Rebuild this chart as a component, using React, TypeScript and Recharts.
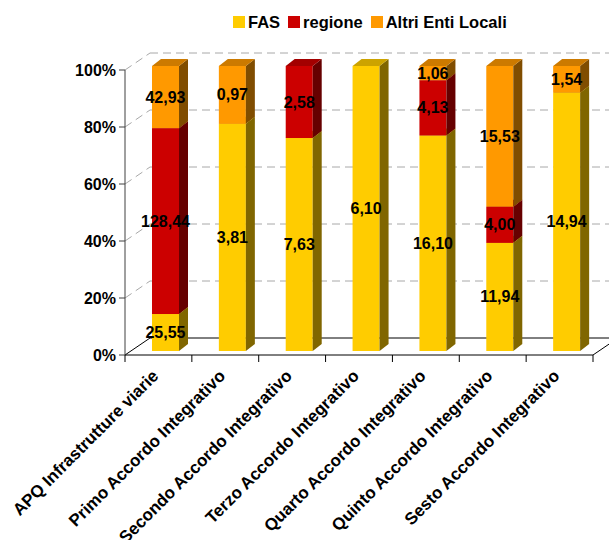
import React from 'react';
import { BarChart, Bar, XAxis, YAxis, CartesianGrid, Legend, LabelList } from 'recharts';

const categories = [
  'APQ Infrastrutture viarie',
  'Primo Accordo Integrativo',
  'Secondo Accordo Integrativo',
  'Terzo Accordo Integrativo',
  'Quarto Accordo Integrativo',
  'Quinto Accordo Integrativo',
  'Sesto Accordo Integrativo',
];
const fas = [25.55, 3.81, 7.63, 6.1, 16.1, 11.94, 14.94];
const regione = [128.44, 0, 2.58, 0, 4.13, 4.0, 0];
const altri = [42.93, 0.97, 0, 0, 1.06, 15.53, 1.54];
const yTicks = [0, 0.2, 0.4, 0.6, 0.8, 1];

const series = [
  { key: 'fas', name: 'FAS', front: '#FFCC00', side: '#806600', top: '#CCA300' },
  { key: 'regione', name: 'regione', front: '#CC0000', side: '#660000', top: '#A30000' },
  { key: 'altri', name: 'Altri Enti Locali', front: '#FF9900', side: '#804D00', top: '#CC7A00' },
];

const data = categories.map((name, i) => ({
  name,
  fas: fas[i],
  regione: regione[i],
  altri: altri[i],
}));

const FONT = '"Liberation Sans", Arial, sans-serif';
// bars sit a bit inside the box, depth of the bars and of the walls
const DX = 7;
const DY = -4;
const BAR_DX = 9;
const BAR_DY = 7;
const WALL_X = 25;
const WALL_Y = 17;

const makeShape = (c: { front: string; side: string; top: string }) => (props: any) => {
  const { x, y, width, height } = props;
  if (!height || height < 0.5) return <g />;
  const fx = x + DX;
  const fy = y + DY;
  return (
    <g>
      <rect x={fx} y={fy} width={width} height={height} fill={c.front} />
      <polygon
        points={`${fx + width},${fy} ${fx + width + BAR_DX},${fy - BAR_DY} ${fx + width + BAR_DX},${fy + height - BAR_DY} ${fx + width},${fy + height}`}
        fill={c.side}
      />
      <polygon
        points={`${fx},${fy} ${fx + BAR_DX},${fy - BAR_DY} ${fx + width + BAR_DX},${fy - BAR_DY} ${fx + width},${fy}`}
        fill={c.top}
      />
    </g>
  );
};

const ValueLabel = (props: any) => {
  const { x, y, width, height, value } = props;
  if (typeof value !== 'number' || value === 0) return null;
  return (
    <text
      x={x + width / 2 + DX}
      y={y + height / 2 + DY}
      textAnchor="middle"
      dominantBaseline="central"
      fontFamily={FONT}
      fontWeight="bold"
      fontSize={16}
      fill="#000"
    >
      {value.toFixed(2).replace('.', ',')}
    </text>
  );
};

const GridLine = (p: any) => {
  const { x1, x2, y1, index } = p;
  const floor = typeof p.y === 'number' && typeof p.height === 'number'
    ? Math.abs(y1 - (p.y + p.height)) < 1
    : index === 0;
  if (floor) {
    return (
      <g>
        <line x1={x1} y1={y1} x2={x1 + WALL_X} y2={y1 - WALL_Y} stroke="#000" />
        <line x1={x1 + WALL_X} y1={y1 - WALL_Y} x2={x2 + WALL_X} y2={y1 - WALL_Y} stroke="#000" />
        <line x1={x2} y1={y1} x2={x2 + WALL_X} y2={y1 - WALL_Y} stroke="#000" />
      </g>
    );
  }
  return (
    <g>
      <line x1={x1} y1={y1} x2={x1 + WALL_X} y2={y1 - WALL_Y} stroke="#a8a8a8" strokeDasharray="8 5" />
      <line x1={x1 + WALL_X} y1={y1 - WALL_Y} x2={x2 + WALL_X} y2={y1 - WALL_Y} stroke="#a8a8a8" strokeDasharray="8 5" />
    </g>
  );
};

const CategoryTick = (props: any) => {
  const { x, y, payload, index } = props;
  const half = payload && payload.offset > 0 ? payload.offset : 33.4;
  const ax = x + 1;
  const ay = y + 22;
  return (
    <g>
      <line x1={x - half} y1={y} x2={x - half} y2={y + 7} stroke="#000" />
      {index === categories.length - 1 && (
        <line x1={x + half} y1={y} x2={x + half} y2={y + 7} stroke="#000" />
      )}
      <text
        x={ax}
        y={ay}
        textAnchor="end"
        transform={`rotate(-45, ${ax}, ${ay})`}
        fontFamily={FONT}
        fontWeight="bold"
        fontSize={17}
        fill="#000"
      >
        {payload.value}
      </text>
    </g>
  );
};

const LegendContent = () => (
  <div style={{ display: 'flex', alignItems: 'center', fontFamily: FONT, fontWeight: 'bold', fontSize: 16.5, lineHeight: '20px' }}>
    {series.map((s) => (
      <div key={s.key} style={{ display: 'flex', alignItems: 'center', marginRight: 8 }}>
        <span style={{ width: 12, height: 12, background: s.front, display: 'inline-block', marginRight: 3 }} />
        <span>{s.name}</span>
      </div>
    ))}
  </div>
);

export default function App() {
  return (
    <div style={{ position: 'absolute', left: 0, top: 0, width: 609, height: 540, background: '#fff' }}>
      <BarChart
        width={609}
        height={540}
        data={data}
        stackOffset="expand"
        margin={{ top: 50, right: 16, left: 45, bottom: 0 }}
        style={{ fontFamily: FONT }}
      >
        <CartesianGrid vertical={false} horizontal={GridLine} />
        <Legend
          verticalAlign="top"
          height={20}
          content={<LegendContent />}
          wrapperStyle={{ top: 12, left: 233, width: 'auto' }}
        />
        <XAxis
          dataKey="name"
          interval={0}
          height={185}
          tickSize={0}
          tickMargin={0}
          tickLine={false}
          axisLine={{ stroke: '#000' }}
          tick={<CategoryTick />}
        />
        <YAxis
          width={80}
          domain={[0, 1]}
          ticks={yTicks}
          tickFormatter={(v: number) => `${Math.round(v * 100)}%`}
          tickSize={6}
          tickMargin={3}
          axisLine={{ stroke: '#404040' }}
          tickLine={{ stroke: '#404040' }}
          tick={{ fill: '#000', fontSize: 16, fontWeight: 'bold', fontFamily: FONT }}
        />
        {series.map((s) => (
          <Bar
            key={s.key}
            dataKey={s.key}
            name={s.name}
            stackId="a"
            fill={s.front}
            barSize={27}
            shape={makeShape(s)}
            isAnimationActive={false}
          >
            <LabelList dataKey={s.key} content={<ValueLabel />} />
          </Bar>
        ))}
      </BarChart>
    </div>
  );
}
